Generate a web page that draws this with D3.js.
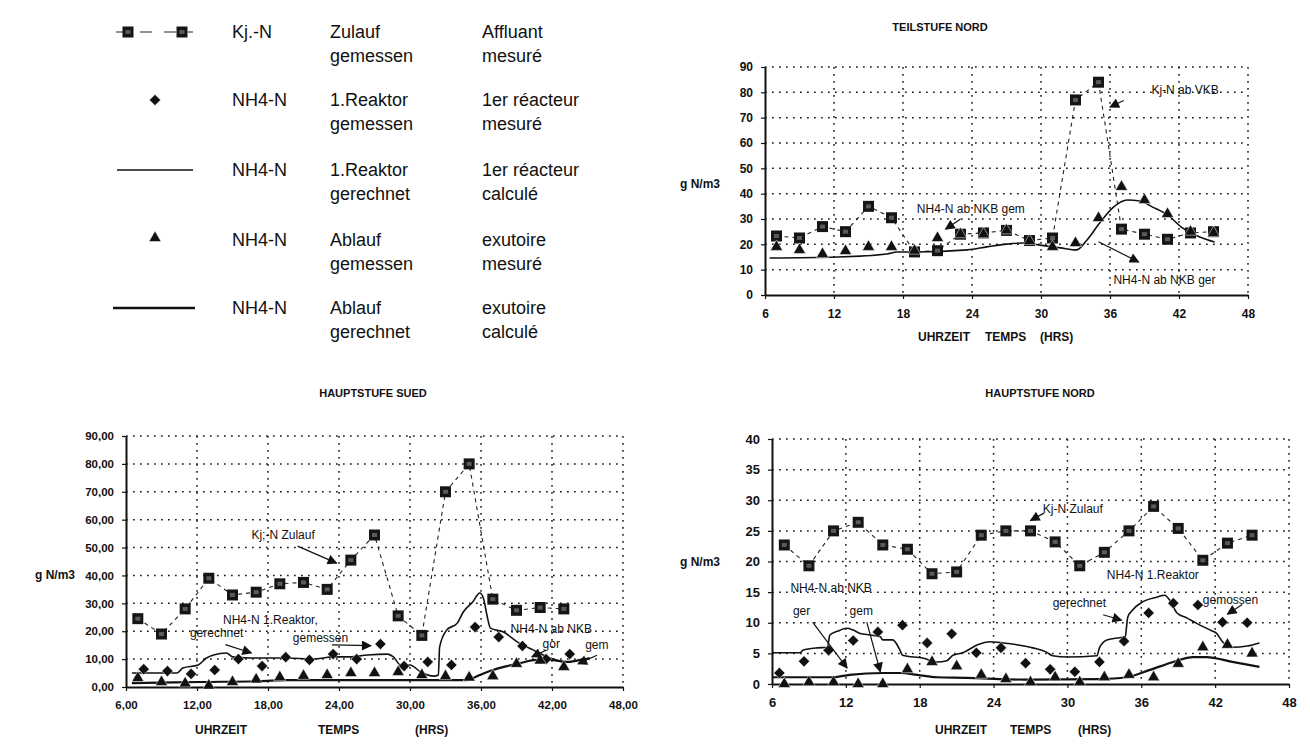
<!DOCTYPE html>
<html>
<head>
<meta charset="utf-8">
<script src="https://cdn.jsdelivr.net/npm/d3@7"></script>
<style>
body { margin: 0; background: #fff; }
svg text { font-family: "Liberation Sans", Arial, sans-serif; fill: #111; }
.grid { stroke: #1a1a1a; stroke-width: 1.5; stroke-dasharray: 1.7,5.3; }
</style>
</head>
<body>
<div id="container"></div>
<script>
// ---- data ----
var xTicks = [6, 12, 18, 24, 30, 36, 42, 48];

// TEILSTUFE NORD
var tnTicks = [0, 10, 20, 30, 40, 50, 60, 70, 80, 90];
var tnHours = [7, 9, 11, 13, 15, 17, 19, 21, 23, 25, 27, 29, 31, 33, 35, 37, 39, 41, 43, 45];
var tnKjN = [23.3, 22.5, 27, 25, 35, 30.5, 17, 17.5, 24, 24.5, 25.5, 21.5, 22.5, 77, 84, 26, 24, 22, 24.5, 25];
var tnNH4gem = [19, 17.8, 16.2, 17.4, 19, 19, 17.5, 22.5, 24, 24, 25.5, 21.3, 19, 20.5, 30.4, 42.7, 37.5, 32, 25, 24.5];
var tnGerHours = [6.4, 12.3, 16.6, 17.5, 19.2, 23.6, 25.3, 27.0, 28.4, 29.9, 31.7, 33.1, 34.0, 35.1, 36.3, 37.5, 38.6, 39.7, 41.0, 42.3, 43.8, 45.1];
var tnGer = [14.6, 15.0, 16.2, 17.0, 17.0, 17.8, 19.0, 20.1, 20.5, 19.7, 18.6, 17.8, 21.7, 28.4, 34.7, 37.5, 37.1, 34.7, 31.6, 26.5, 22.9, 20.9];

// HAUPTSTUFE SUED
var hsTicks = [0, 10, 20, 30, 40, 50, 60, 70, 80, 90];
var hsHours = [7, 9, 11, 13, 15, 17, 19, 21, 23, 25, 27, 29, 31, 33, 35, 37, 39, 41, 43];
var hsKjN = [24.5, 19, 28, 39, 33, 34, 37, 37.5, 35, 45.5, 54.5, 25.5, 18.5, 70, 80, 31.5, 27.5, 28.5, 28];
var hsDiaHours = [7.5, 9.5, 11.5, 13.5, 15.5, 17.5, 19.5, 21.5, 23.5, 25.5, 27.5, 29.5, 31.5, 33.5, 35.5, 37.5, 39.5, 41.5, 43.5];
var hsReaktor = [6.4, 5.7, 4.7, 6.1, 10, 7.5, 10.7, 9.7, 11.8, 10, 15.4, 7.5, 9, 7.9, 21.5, 17.9, 14.7, 10, 11.8];
var hsAblauf = [3.2, 1.8, 1.3, 0.5, 1.8, 2.7, 3.5, 4, 4.3, 5, 5, 5.4, 4.3, 3.9, 3.4, 3.9, 8.3, 9.5, 7.2];
var hsRGerHours = [6.5, 10.3, 10.8, 12.1, 12.8, 13.4, 14.5, 15.0, 16.5, 19.6, 21.8, 23.5, 24.9, 26.4, 28.1, 28.6, 29.2, 30.0, 30.9, 32.0, 32.4, 32.5, 33.1, 34.0, 34.5, 35.3, 35.9, 36.2, 36.5, 36.8, 37.9, 39.1, 40.4, 41.6, 42.9];
var hsRGer = [5.0, 5.0, 6.8, 7.9, 10.4, 11.5, 12.2, 10.8, 10.4, 10.4, 10.0, 10.8, 10.8, 11.5, 11.8, 10.8, 7.9, 7.9, 5.4, 3.9, 4.3, 14.3, 20.4, 22.9, 26.9, 30.5, 33.7, 31.9, 25.8, 21.1, 19.7, 16.1, 13.3, 10.8, 9.0];
var hsAGerHours = [6.5, 12.3, 17.3, 19.6, 31.7, 34.8, 35.9, 37.0, 38.2, 39.3, 40.7, 41.8, 43.3, 44.4, 45.2];
var hsAGer = [1.4, 1.8, 2.1, 2.5, 2.5, 2.5, 4.3, 6.1, 7.5, 8.6, 9.7, 9.7, 9.0, 9.7, 10.4];

// HAUPTSTUFE NORD
var hnTicks = [0, 5, 10, 15, 20, 25, 30, 35, 40];
var hnHours = [7, 9, 11, 13, 15, 17, 19, 21, 23, 25, 27, 29, 31, 33, 35, 37, 39, 41, 43, 45];
var hnKjN = [22.7, 19.3, 25, 26.4, 22.7, 22, 18, 18.3, 24.3, 25, 25, 23.2, 19.3, 21.5, 25, 29, 25.4, 20.2, 23, 24.3];
var hnDiaHours = [6.6, 8.6, 10.6, 12.6, 14.6, 16.6, 18.6, 20.6, 22.6, 24.6, 26.6, 28.6, 30.6, 32.6, 34.6, 36.6, 38.6, 40.6, 42.6, 44.6];
var hnReaktor = [1.8, 3.7, 5.5, 7.1, 8.5, 9.6, 6.7, 8.2, 5.1, 5.9, 3.4, 2.4, 2.0, 3.6, 7.0, 11.6, 13.2, 12.9, 10.1, 10.0];
var hnAblauf = [0, 0.3, 0.3, 0, 0, 2.4, 3.6, 2.9, 1.5, 0.8, 0.3, 1.1, 0.3, 1.1, 1.5, 1.1, 3.3, 6.0, 6.4, 5.0];
var hnRGerHours = [6.0, 8.3, 8.5, 9.7, 10.5, 10.7, 11.3, 12.1, 12.6, 13.1, 14.0, 14.8, 15.0, 15.8, 16.4, 16.6, 18.3, 19.4, 20.2, 20.7, 21.5, 22.7, 23.7, 24.8, 25.9, 27.2, 28.3, 28.8, 30.0, 32.4, 32.6, 33.2, 34.0, 34.7, 34.8, 34.9, 35.3, 36.1, 37.3, 37.9, 38.3, 38.9, 39.7, 40.5, 41.6, 42.1, 42.6, 43.4, 44.6, 45.6];
var hnRGer = [5.1, 5.1, 5.5, 5.9, 6.0, 8.0, 8.6, 9.1, 8.8, 8.3, 8.0, 7.7, 7.2, 7.2, 5.5, 4.7, 4.2, 3.6, 3.8, 4.7, 5.1, 6.4, 6.9, 6.7, 6.4, 5.9, 5.2, 4.6, 4.4, 4.6, 5.9, 7.2, 7.5, 7.7, 9.3, 10.9, 12.1, 13.4, 14.2, 14.5, 13.7, 11.6, 10.8, 9.9, 8.8, 8.3, 6.9, 6.0, 6.2, 6.7];
var hnAGerHours = [6.0, 11.0, 12.3, 15.0, 16.4, 17.8, 19.4, 21.8, 24.5, 27.2, 32.6, 34.8, 36.7, 38.6, 40.2, 41.3, 43.4, 45.6];
var hnAGer = [1.1, 1.1, 1.5, 1.8, 1.8, 1.5, 1.1, 1.0, 0.8, 0.7, 0.8, 1.1, 2.3, 3.6, 4.4, 4.4, 3.6, 2.8];

// legend texts
var legCol1 = ["Kj.-N", "NH4-N", "NH4-N", "NH4-N", "NH4-N"];
var legCol2 = [["Zulauf", "gemessen"], ["1.Reaktor", "gemessen"], ["1.Reaktor", "gerechnet"], ["Ablauf", "gemessen"], ["Ablauf", "gerechnet"]];
var legCol3 = [["Affluant", "mesuré"], ["1er réacteur", "mesuré"], ["1er réacteur", "calculé"], ["exutoire", "mesuré"], ["exutoire", "calculé"]];

// annotations, in data units (hour, value)
var tnLabels = [["Kj-N ab VKB", 39.6, 79.5], ["NH4-N ab NKB gem", 19.2, 32.5], ["NH4-N ab NKB ger", 36.3, 4.5]];
var tnArrows = [[37.2, 76.8, 36.0, 74.2], [23.0, 30.0, 21.7, 26.0], [35.0, 21.0, 38.5, 13.0]];
var hsLabels = [["Kj;-N Zulauf", 16.6, 53.2], ["NH4-N 1.Reaktor,", 14.2, 22.6], ["gerechnet", 11.4, 17.8], ["gemessen", 20.1, 16.0], ["NH4-N ab NKB", 38.5, 19.2], ["gor", 41.2, 14.0], ["gem", 44.8, 13.8]];
var hsArrows = [[20.5, 50.5, 23.8, 44.4], [14.4, 15.2, 16.6, 12.2], [23.4, 15.1, 26.7, 14.8], [41.5, 13.2, 40.3, 10.8], [45.8, 11.4, 44.2, 8.3]];
var hnLabels = [["Kj-N Zulauf", 28.0, 28.0], ["NH4-N 1.Reaktor", 33.2, 17.2], ["gerechnet", 28.8, 12.5], ["gemossen", 41.0, 13.0], ["NH4-N ab NKB", 7.5, 15.0], ["ger", 7.7, 11.2], ["gem", 12.3, 11.2]];
var hnArrows = [[28.1, 27.9, 27.0, 26.7], [32.9, 11.3, 34.4, 10.4], [44.2, 13.0, 43.0, 11.4], [9.3, 10.1, 12.1, 2.6], [13.7, 10.1, 14.8, 2.0]];

// ---- drawing ----
var svg = d3.select("#container").append("svg")
  .attr("width", 1310).attr("height", 745);

svg.append("defs").append("marker")
  .attr("id", "arr")
  .attr("viewBox", "0 0 10 10")
  .attr("refX", 9).attr("refY", 5)
  .attr("markerWidth", 11).attr("markerHeight", 10)
  .attr("markerUnits", "userSpaceOnUse")
  .attr("orient", "auto")
  .append("path").attr("d", "M0,0L10,5L0,10z").attr("fill", "#111");

var commaFmt = function(d) { return d3.format(".2f")(d).replace(".", ","); };

function drawPanel(p) {
  var x = d3.scaleLinear().domain([6, 48]).range([p.left, p.right]);
  var y = d3.scaleLinear().domain([0, p.ticks[p.ticks.length - 1]]).range([p.bottom, p.top]);
  var g = svg.append("g");

  // dotted grid
  g.append("g").selectAll("line").data(p.ticks.slice(1)).enter().append("line")
    .attr("class", "grid")
    .attr("x1", p.left).attr("x2", p.right)
    .attr("y1", function(d) { return y(d); }).attr("y2", function(d) { return y(d); });
  g.append("g").selectAll("line").data(xTicks.slice(1)).enter().append("line")
    .attr("class", "grid")
    .attr("x1", function(d) { return x(d); }).attr("x2", function(d) { return x(d); })
    .attr("y1", p.top).attr("y2", p.bottom);

  var ya = g.append("g").attr("transform", "translate(" + p.left + ",0)")
    .call(d3.axisLeft(y).tickValues(p.ticks).tickFormat(p.fmt).tickSize(4).tickSizeOuter(0).tickPadding(p.yPad));
  var xa = g.append("g").attr("transform", "translate(0," + p.bottom + ")")
    .call(d3.axisBottom(x).tickValues(xTicks).tickFormat(p.fmt).tickSize(4).tickSizeOuter(0).tickPadding(p.xPad));
  [ya, xa].forEach(function(a) {
    a.attr("font-family", null).attr("font-size", null);
    a.select(".domain").attr("stroke", "#111").attr("stroke-width", 2);
    a.selectAll(".tick line").attr("stroke", "#111").attr("stroke-width", 1.2);
    a.selectAll("text").attr("font-size", p.tickSize).attr("font-weight", "bold").attr("fill", "#000");
  });

  g.append("text").attr("x", p.titleX).attr("y", p.titleY)
    .attr("text-anchor", "middle").attr("font-size", 11).attr("font-weight", "bold")
    .text(p.title);
  g.append("text").attr("x", p.yLabX).attr("y", p.yLabY)
    .attr("font-size", 12).attr("font-weight", "bold").text("g N/m3");
  var xt = ["UHRZEIT", "TEMPS", "(HRS)"];
  g.append("g").selectAll("text").data(xt).enter().append("text")
    .attr("x", function(d, i) { return p.xTitleX[i]; }).attr("y", p.xTitleY)
    .attr("font-size", 12).attr("font-weight", "bold")
    .text(function(d) { return d; });

  return { x: x, y: y, g: g };
}

function pts(hours, vals) { return d3.zip(hours, vals); }

function dashedLine(P, hours, vals) {
  P.g.append("path").datum(pts(hours, vals))
    .attr("fill", "none").attr("stroke", "#222").attr("stroke-width", 1.1)
    .attr("stroke-dasharray", "4,4")
    .attr("d", d3.line().x(function(d) { return P.x(d[0]); }).y(function(d) { return P.y(d[1]); }));
}

function solidLine(P, hours, vals, w) {
  P.g.append("path").datum(pts(hours, vals))
    .attr("fill", "none").attr("stroke", "#111").attr("stroke-width", w)
    .attr("stroke-linejoin", "round")
    .attr("d", d3.line().curve(d3.curveMonotoneX)
      .x(function(d) { return P.x(d[0]); }).y(function(d) { return P.y(d[1]); }));
}

function squares(g, data, fx, fy) {
  var s = g.append("g").selectAll("g").data(data).enter().append("g")
    .attr("transform", function(d) { return "translate(" + fx(d) + "," + fy(d) + ")"; });
  s.append("rect").attr("x", -5.5).attr("y", -5.5).attr("width", 11).attr("height", 11).attr("fill", "#151515");
  s.append("rect").attr("x", -2.5).attr("y", -2).attr("width", 5).attr("height", 4).attr("fill", "#5a5a5a");
}

function symbols(g, data, fx, fy, type, size) {
  g.append("g").selectAll("path").data(data).enter().append("path")
    .attr("d", d3.symbol().type(type).size(size))
    .attr("fill", "#111").attr("stroke", "#fff").attr("stroke-width", 0.5)
    .attr("transform", function(d) { return "translate(" + fx(d) + "," + fy(d) + ")"; });
}

function markers(P, hours, vals, kind) {
  var fx = function(d) { return P.x(d[0]); }, fy = function(d) { return P.y(d[1]); };
  if (kind === "sq") squares(P.g, pts(hours, vals), fx, fy);
  else if (kind === "dia") symbols(P.g, pts(hours, vals), fx, fy, d3.symbolDiamond2, 80);
  else symbols(P.g, pts(hours, vals), fx, fy, d3.symbolTriangle, 64);
}

function annotate(P, labels, arrows) {
  P.g.append("g").selectAll("text").data(labels).enter().append("text")
    .attr("x", function(d) { return P.x(d[1]); }).attr("y", function(d) { return P.y(d[2]); })
    .attr("font-size", 12).text(function(d) { return d[0]; });
  P.g.append("g").selectAll("line").data(arrows).enter().append("line")
    .attr("x1", function(d) { return P.x(d[0]); }).attr("y1", function(d) { return P.y(d[1]); })
    .attr("x2", function(d) { return P.x(d[2]); }).attr("y2", function(d) { return P.y(d[3]); })
    .attr("stroke", "#111").attr("stroke-width", 1.2).attr("marker-end", "url(#arr)");
}

// TEILSTUFE NORD
var TN = drawPanel({ left: 765, right: 1248, top: 67, bottom: 295, ticks: tnTicks, fmt: d3.format("d"),
  yPad: 8, xPad: 10, tickSize: 12, title: "TEILSTUFE NORD", titleX: 940, titleY: 31,
  yLabX: 680, yLabY: 188, xTitleX: [918, 985, 1040], xTitleY: 341 });
dashedLine(TN, tnHours, tnKjN);
solidLine(TN, tnGerHours, tnGer, 1.6);
markers(TN, tnHours, tnKjN, "sq");
markers(TN, tnHours, tnNH4gem, "tri");
annotate(TN, tnLabels, tnArrows);

// HAUPTSTUFE SUED
var HS = drawPanel({ left: 126, right: 623, top: 436, bottom: 687, ticks: hsTicks, fmt: commaFmt,
  yPad: 8, xPad: 10, tickSize: 11.5, title: "HAUPTSTUFE SUED", titleX: 373, titleY: 397,
  yLabX: 35, yLabY: 579, xTitleX: [195, 318, 415], xTitleY: 734 });
dashedLine(HS, hsHours, hsKjN);
solidLine(HS, hsRGerHours, hsRGer, 1.6);
solidLine(HS, hsAGerHours, hsAGer, 2.2);
markers(HS, hsHours, hsKjN, "sq");
markers(HS, hsDiaHours, hsReaktor, "dia");
markers(HS, hsHours, hsAblauf, "tri");
annotate(HS, hsLabels, hsArrows);

// HAUPTSTUFE NORD
var HN = drawPanel({ left: 772, right: 1289, top: 439, bottom: 684, ticks: hnTicks, fmt: d3.format("d"),
  yPad: 8, xPad: 10, tickSize: 13, title: "HAUPTSTUFE NORD", titleX: 1040, titleY: 397,
  yLabX: 680, yLabY: 566, xTitleX: [935, 1010, 1078], xTitleY: 734 });
dashedLine(HN, hnHours, hnKjN);
solidLine(HN, hnRGerHours, hnRGer, 1.6);
solidLine(HN, hnAGerHours, hnAGer, 2.2);
markers(HN, hnHours, hnKjN, "sq");
markers(HN, hnDiaHours, hnReaktor, "dia");
markers(HN, hnHours, hnAblauf, "tri");
annotate(HN, hnLabels, hnArrows);

// legend
var leg = svg.append("g");
var rowY = [38, 106, 176, 246, 314];
leg.selectAll(".c1").data(legCol1).enter().append("text")
  .attr("x", 232).attr("y", function(d, i) { return rowY[i]; })
  .attr("font-size", 18).text(function(d) { return d; });
[[legCol2, 330], [legCol3, 482]].forEach(function(c) {
  c[0].forEach(function(lines, i) {
    lines.forEach(function(t, j) {
      leg.append("text").attr("x", c[1]).attr("y", rowY[i] + j * 24)
        .attr("font-size", 18).text(t);
    });
  });
});
leg.append("line").attr("x1", 116).attr("x2", 193).attr("y1", 32).attr("y2", 32)
  .attr("stroke", "#222").attr("stroke-width", 1.1).attr("stroke-dasharray", "12,12");
squares(leg, [[128, 32], [182, 32]], function(d) { return d[0]; }, function(d) { return d[1]; });
symbols(leg, [[155, 100]], function(d) { return d[0]; }, function(d) { return d[1]; }, d3.symbolDiamond2, 80);
leg.append("line").attr("x1", 117).attr("x2", 193).attr("y1", 170).attr("y2", 170)
  .attr("stroke", "#111").attr("stroke-width", 1.6);
symbols(leg, [[155, 238]], function(d) { return d[0]; }, function(d) { return d[1]; }, d3.symbolTriangle, 64);
leg.append("line").attr("x1", 113).attr("x2", 195).attr("y1", 308).attr("y2", 308)
  .attr("stroke", "#111").attr("stroke-width", 2.4);
</script>
</body>
</html>
